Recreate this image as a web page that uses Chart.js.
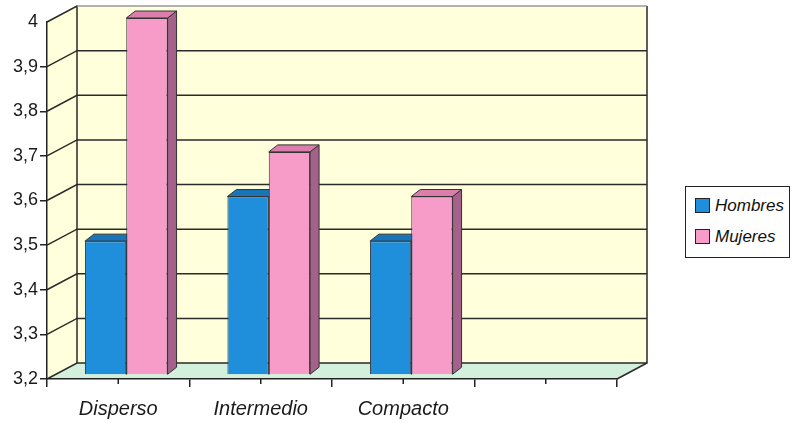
<!DOCTYPE html>
<html>
<head>
<meta charset="utf-8">
<script src="https://cdn.jsdelivr.net/npm/chart.js@4.4.1/dist/chart.umd.min.js"></script>
<style>
  body { margin: 0; background: #fff; }
  #wrap { position: relative; width: 793px; height: 423px; }
  #legend {
    position: absolute; left: 685px; top: 186px; width: 103px; height: 70px;
    border: 1.5px solid #222; background: #fff;
    font-family: "Liberation Sans", Arial, sans-serif; font-style: italic; font-size: 17px; color: #111;
  }
  .item { position: absolute; left: 9px; height: 16px; line-height: 16px; white-space: nowrap; }
  .item span.sw { display: inline-block; width: 13px; height: 13px; border: 1px solid #222; vertical-align: -2px; margin-right: 5px; }
</style>
</head>
<body>
<div id="wrap">
  <canvas id="chart" width="793" height="423"></canvas>
  <div id="legend"></div>
</div>
<script>
const categories = ["Disperso", "Intermedio", "Compacto", ""];
const hombres = [3.5, 3.6, 3.5, null];
const mujeres = [4.0, 3.7, 3.6, null];
const yMin = 3.2, yMax = 4;
const yTickLabels = ["3,2", "3,3", "3,4", "3,5", "3,6", "3,7", "3,8", "3,9", "4"];

const seriesNames = ["Hombres", "Mujeres"];
const frontColors = ["#1f8fdc", "#f79bc9"];
const sideColors = ["#145f99", "#a4628a"];
const topColors = ["#1a74b8", "#dc7eab"];

// depth of the back wall and of the bar boxes
const wallDx = 30, wallDy = -16;
const barShiftX = 8, barShiftY = -4;
const barDx = 9, barDy = -7;

const threeD = {
  id: "threeD",
  beforeDraw(chart) {
    const ctx = chart.ctx;
    const a = chart.chartArea;
    const y = chart.scales.y;
    ctx.save();
    // back wall
    ctx.fillStyle = "#ffffdc";
    ctx.fillRect(a.left + wallDx, a.top + wallDy, a.right - a.left, a.bottom - a.top);
    // left wall
    ctx.beginPath();
    ctx.moveTo(a.left, a.top);
    ctx.lineTo(a.left + wallDx, a.top + wallDy);
    ctx.lineTo(a.left + wallDx, a.bottom + wallDy);
    ctx.lineTo(a.left, a.bottom);
    ctx.closePath();
    ctx.fill();
    // floor
    ctx.fillStyle = "#d3f0dc";
    ctx.beginPath();
    ctx.moveTo(a.left, a.bottom);
    ctx.lineTo(a.right, a.bottom);
    ctx.lineTo(a.right + wallDx, a.bottom + wallDy);
    ctx.lineTo(a.left + wallDx, a.bottom + wallDy);
    ctx.closePath();
    ctx.fill();

    // grid lines on back and left wall
    ctx.strokeStyle = "#2a2a2a";
    ctx.lineWidth = 1.5;
    y.ticks.forEach(t => {
      const py = y.getPixelForValue(t.value);
      if (t.value >= yMax - 0.01) return;
      ctx.beginPath();
      ctx.moveTo(a.left, py);
      ctx.lineTo(a.left + wallDx, py + wallDy);
      ctx.lineTo(a.right + wallDx, py + wallDy);
      ctx.stroke();
    });
    // wall edges
    ctx.beginPath();
    ctx.moveTo(a.left, a.top);
    ctx.lineTo(a.left + wallDx, a.top + wallDy);
    ctx.lineTo(a.left + wallDx, a.bottom + wallDy);
    ctx.stroke();
    ctx.beginPath();
    ctx.moveTo(a.right, a.bottom);
    ctx.lineTo(a.right + wallDx, a.bottom + wallDy);
    ctx.lineTo(a.right + wallDx, a.top + wallDy);
    ctx.stroke();
    ctx.strokeStyle = "#999";
    ctx.beginPath();
    ctx.moveTo(a.left + wallDx, a.top + wallDy);
    ctx.lineTo(a.right + wallDx, a.top + wallDy);
    ctx.stroke();
    ctx.restore();
  },
  beforeDatasetsDraw(chart) {
    const ctx = chart.ctx;
    ctx.save();
    ctx.translate(barShiftX, barShiftY);
    chart.data.datasets.forEach((ds, di) => {
      chart.getDatasetMeta(di).data.forEach((bar, i) => {
        if (ds.data[i] == null) return;
        const p = bar.getProps(["x", "y", "base", "width"], true);
        const l = p.x - p.width / 2, r = p.x + p.width / 2;
        ctx.strokeStyle = "#333";
        ctx.lineWidth = 1;
        ctx.fillStyle = sideColors[di];
        ctx.beginPath();
        ctx.moveTo(r, p.y);
        ctx.lineTo(r + barDx, p.y + barDy);
        ctx.lineTo(r + barDx, p.base + barDy);
        ctx.lineTo(r, p.base);
        ctx.closePath();
        ctx.fill(); ctx.stroke();
        ctx.fillStyle = topColors[di];
        ctx.beginPath();
        ctx.moveTo(l, p.y);
        ctx.lineTo(l + barDx, p.y + barDy);
        ctx.lineTo(r + barDx, p.y + barDy);
        ctx.lineTo(r, p.y);
        ctx.closePath();
        ctx.fill(); ctx.stroke();
      });
    });
  },
  afterDatasetsDraw(chart) {
    chart.ctx.restore();
  },
  afterDraw(chart) {
    // short ticks at category centres
    const ctx = chart.ctx;
    const x = chart.scales.x;
    const a = chart.chartArea;
    ctx.save();
    ctx.strokeStyle = "#222";
    ctx.lineWidth = 1.5;
    categories.forEach((c, i) => {
      const px = x.getPixelForValue(i);
      ctx.beginPath();
      ctx.moveTo(px, a.bottom);
      ctx.lineTo(px, a.bottom + 5);
      ctx.stroke();
    });
    ctx.restore();
  }
};

const chart = new Chart(document.getElementById("chart"), {
  type: "bar",
  data: {
    labels: categories,
    datasets: [
      { label: seriesNames[0], data: hombres, backgroundColor: frontColors[0], borderColor: "#333", borderWidth: 1, base: yMin, clip: false },
      { label: seriesNames[1], data: mujeres, backgroundColor: frontColors[1], borderColor: "#333", borderWidth: 1, base: yMin, clip: false }
    ]
  },
  options: {
    responsive: false,
    animation: false,
    devicePixelRatio: 1,
    layout: { padding: { top: 22, right: 176, left: 0, bottom: 0 } },
    datasets: { bar: { barPercentage: 1, categoryPercentage: 0.58, grouped: true } },
    plugins: { legend: { display: false }, tooltip: { enabled: false } },
    scales: {
      x: {
        offset: true,
        grid: { offset: true, drawOnChartArea: false, tickLength: 8, color: "#222", lineWidth: 1.5 },
        border: { display: true, color: "#222", width: 1.5 },
        ticks: { color: "#1a1a1a", padding: 10, font: { family: "Liberation Sans", size: 20, style: "italic" } },
        afterFit(s) { s.height = 44; }
      },
      y: {
        min: yMin,
        max: yMax,
        beginAtZero: false,
        ticks: {
          stepSize: 0.1,
          color: "#1a1a1a",
          padding: 2,
          font: { family: "Liberation Sans", size: 18 },
          callback: (v, i) => yTickLabels[i]
        },
        grid: {
          drawOnChartArea: false, tickLength: 7, lineWidth: 1.5,
          color: c => (c.tick && c.tick.value >= yMax - 0.01 ? "rgba(0,0,0,0)" : "#222")
        },
        border: { display: true, color: "#222", width: 1.5 },
        afterFit(s) { s.width = 47; }
      }
    }
  },
  plugins: [threeD]
});

// legend built from the datasets
const legend = document.getElementById("legend");
chart.data.datasets.forEach((ds, i) => {
  const d = document.createElement("div");
  d.className = "item";
  d.style.top = (11 + i * 31) + "px";
  d.innerHTML = '<span class="sw" style="background:' + ds.backgroundColor + '"></span>' + ds.label;
  legend.appendChild(d);
});
</script>
</body>
</html>
